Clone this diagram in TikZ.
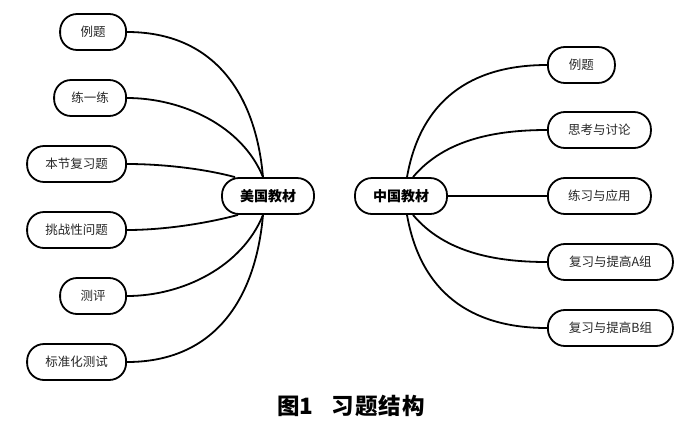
\documentclass[tikz,border=0pt]{standalone}
\usepackage{fontspec}
\newfontfamily\cjk{Noto Sans CJK SC}
\tikzset{
  pill/.style={draw, line width=1.8pt, rounded corners=17pt, minimum height=36pt, inner sep=0pt, font=\cjk\fontsize{12.5}{12.5}\selectfont, text=black!85},
  hub/.style={pill, font=\cjk\bfseries\fontsize{14}{14}\selectfont, text=black, minimum width=92pt},
  link/.style={line width=1.8pt},
}
\begin{document}
\begin{tikzpicture}[x=1pt,y=-1pt]
\useasboundingbox (0,0) rectangle (700,429);
% hubs
\node[hub] (us) at (268,196) {美国教材};
\node[hub] (cn) at (401,196) {中国教材};
% left nodes
\node[pill, anchor=east, minimum width=66pt] (l1) at (127,32) {例题};
\node[pill, anchor=east, minimum width=72pt] (l2) at (127,98) {练一练};
\node[pill, anchor=east, minimum width=99pt] (l3) at (127,164) {本节复习题};
\node[pill, anchor=east, minimum width=99pt] (l4) at (127,230) {挑战性问题};
\node[pill, anchor=east, minimum width=66pt] (l5) at (127,296) {测评};
\node[pill, anchor=east, minimum width=99pt] (l6) at (127,362) {标准化测试};
% right nodes
\node[pill, anchor=west, minimum width=67pt] (r1) at (547,65) {例题};
\node[pill, anchor=west, minimum width=103pt] (r2) at (547,130) {思考与讨论};
\node[pill, anchor=west, minimum width=103pt] (r3) at (547,196) {练习与应用};
\node[pill, anchor=west, minimum width=125pt] (r4) at (547,262) {复习与提高A组};
\node[pill, anchor=west, minimum width=125pt] (r5) at (547,328) {复习与提高B组};
% attachment points
\coordinate (usN) at ([xshift=-5pt]us.north);
\coordinate (usS) at ([xshift=-5pt]us.south);
\coordinate (usNW) at ([xshift=-33pt]us.north);
\coordinate (usSW) at ([xshift=-30pt]us.south);
\coordinate (cnN) at ([xshift=6pt]cn.north);
\coordinate (cnN2) at ([xshift=12pt]cn.north);
\coordinate (cnS) at ([xshift=6pt]cn.south);
\coordinate (cnS2) at ([xshift=12pt]cn.south);
% connectors
\draw[link] (l1.east) to[out=0, in=95, looseness=1.1] (usN);
\draw[link] (l2.east) to[out=0, in=112, looseness=0.9] (usN);
\draw[link] (l3.east) to[out=0, in=165, looseness=0.8] (usNW);
\draw[link] (l4.east) to[out=0, in=195, looseness=0.8] (usSW);
\draw[link] (l5.east) to[out=0, in=248, looseness=0.9] (usS);
\draw[link] (l6.east) to[out=0, in=265, looseness=1.1] (usS);
\draw[link] (cnN) to[out=80, in=180, looseness=1.1] (r1.west);
\draw[link] (cnN2) to[out=50, in=180, looseness=0.9] (r2.west);
\draw[link] (cn.east) -- (r3.west);
\draw[link] (cnS2) to[out=-50, in=180, looseness=0.9] (r4.west);
\draw[link] (cnS) to[out=-80, in=180, looseness=1.1] (r5.west);
% caption
\node[font=\cjk\bfseries\fontsize{22.5}{22.5}\selectfont] (cap) at (351,406) {图1\hspace{0.8em}习\hspace{0.05em}题\hspace{0.05em}结\hspace{0.05em}构};
\end{tikzpicture}
\end{document}
